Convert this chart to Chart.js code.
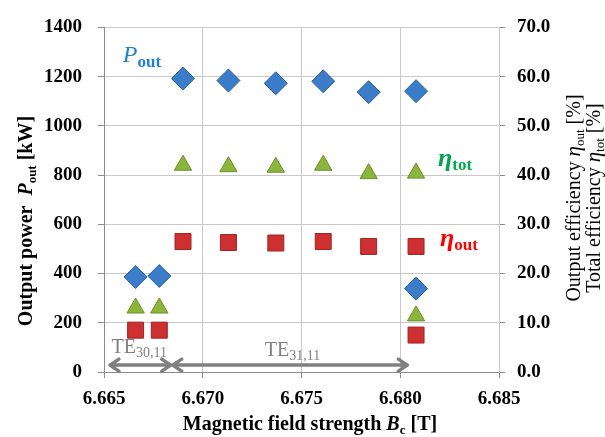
<!DOCTYPE html>
<html>
<head>
<meta charset="utf-8">
<script src="https://cdn.jsdelivr.net/npm/chart.js@4.4.1/dist/chart.umd.min.js"></script>
<style>
  html, body { margin: 0; padding: 0; background: #fff; }
  #wrap { width: 605px; height: 437px; }
</style>
</head>
<body>
<div id="wrap"><canvas id="grafico" width="605" height="437"></canvas></div>
<script>
// Magnetic field (T) for each measured point
const campoB = [6.6666, 6.6678, 6.6690, 6.6713, 6.6737, 6.6761, 6.6784, 6.6808, 6.6808];
// Output power (kW)
const potencia = [386, 390, 1192, 1184, 1173, 1181, 1137, 1141, 339];
// Total efficiency (%)
const etaTot = [13.0, 13.0, 42.0, 41.7, 41.6, 42.0, 40.3, 40.4, 11.4];
// Output efficiency (%)
const etaOut = [8.5, 8.5, 26.5, 26.3, 26.2, 26.5, 25.5, 25.5, 7.5];

// Axis ranges
const eixoX = { min: 6.665, max: 6.685, passo: 0.005 };
const eixoP = { min: 0, max: 1400, passo: 100, rotulo: 200 };
const eixoEta = { min: 0, max: 70, passo: 10 };

const SERIF = '"Liberation Serif", "Times New Roman", serif';

function pontos(ys) {
  return campoB.map((b, i) => ({ x: b, y: ys[i] }));
}

// draws text made of pieces [text, font, dy, color]
function pecas(ctx, partes, x, y, cor) {
  partes.forEach(p => {
    ctx.font = p[1];
    ctx.fillStyle = p[3] || cor;
    ctx.fillText(p[0], x, y + (p[2] || 0));
    x += ctx.measureText(p[0]).width;
  });
  return x;
}
function largura(ctx, partes) {
  let w = 0;
  partes.forEach(p => { ctx.font = p[1]; w += ctx.measureText(p[0]).width; });
  return w;
}

function seta(ctx, x1, x2, y) {
  ctx.save();
  ctx.strokeStyle = '#808080';
  ctx.lineWidth = 3.5;
  ctx.lineCap = 'round';
  ctx.lineJoin = 'round';
  ctx.beginPath();
  ctx.moveTo(x1, y); ctx.lineTo(x2, y);
  ctx.moveTo(x1 + 9, y - 6); ctx.lineTo(x1, y); ctx.lineTo(x1 + 9, y + 6);
  ctx.moveTo(x2 - 9, y - 6); ctx.lineTo(x2, y); ctx.lineTo(x2 - 9, y + 6);
  ctx.stroke();
  ctx.restore();
}

const anotacoes = {
  id: 'anotacoes',
  afterDraw(chart) {
    const ctx = chart.ctx;
    const sx = chart.scales.x, sy = chart.scales.y, se = chart.scales.y1;
    ctx.save();
    ctx.textBaseline = 'alphabetic';
    ctx.textAlign = 'left';

    // series labels
    pecas(ctx, [['P', 'italic 24px ' + SERIF], ['out', 'bold 17px ' + SERIF, 5]],
      sx.getPixelForValue(6.66595), sy.getPixelForValue(1260), '#1f7fd0');
    pecas(ctx, [['\u03B7', 'bold italic 26px ' + SERIF, -2], ['tot', 'bold 17px ' + SERIF, 2]],
      sx.getPixelForValue(6.68191), se.getPixelForValue(41.4), '#00a650');
    pecas(ctx, [['\u03B7', 'bold italic 26px ' + SERIF, -2], ['out', 'bold 17px ' + SERIF, 2]],
      sx.getPixelForValue(6.68201), se.getPixelForValue(25.2), '#ff0000');

    // mode labels and ranges
    pecas(ctx, [['TE', '20px ' + SERIF], ['30,11', '14px ' + SERIF, 4]],
      sx.getPixelForValue(6.66538), sy.getPixelForValue(76), '#7f7f7f');
    pecas(ctx, [['TE', '20px ' + SERIF], ['31,11', '14px ' + SERIF, 4]],
      sx.getPixelForValue(6.67314), sy.getPixelForValue(64), '#7f7f7f');
    seta(ctx, sx.getPixelForValue(6.66530), sx.getPixelForValue(6.66838), sy.getPixelForValue(28));
    seta(ctx, sx.getPixelForValue(6.66848), sx.getPixelForValue(6.68036), sy.getPixelForValue(28));

    // axis titles
    const tEsq = [['Output power  ', 'bold 20px ' + SERIF], ['P', 'bold italic 20px ' + SERIF],
      ['out', 'bold 13px ' + SERIF, 4], [' [kW]', 'bold 20px ' + SERIF]];
    ctx.save();
    ctx.translate(32, 221);
    ctx.rotate(-Math.PI / 2);
    pecas(ctx, tEsq, -largura(ctx, tEsq) / 2, 0, '#000');
    ctx.restore();

    const tDir1 = [['Output efficiency ', '20px ' + SERIF], ['\u03B7', 'italic 21px ' + SERIF],
      ['out', '13px ' + SERIF, 4], [' [%]', '20px ' + SERIF]];
    const tDir2 = [['Total efficiency ', '20px ' + SERIF], ['\u03B7', 'italic 21px ' + SERIF],
      ['tot', '13px ' + SERIF, 4], [' [%]', '20px ' + SERIF]];
    ctx.save();
    ctx.translate(580, 198);
    ctx.rotate(-Math.PI / 2);
    pecas(ctx, tDir1, -largura(ctx, tDir1) / 2, 0, '#000');
    pecas(ctx, tDir2, -largura(ctx, tDir2) / 2, 20, '#000');
    ctx.restore();

    const tBase = [['Magnetic field strength ', 'bold 20px ' + SERIF], ['B', 'bold italic 20px ' + SERIF],
      ['c', 'bold 13px ' + SERIF, 4], [' [T]', 'bold 20px ' + SERIF]];
    pecas(ctx, tBase, 310 - largura(ctx, tBase) / 2, 430, '#000');
    ctx.restore();
  }
};

const ctx = document.getElementById('grafico').getContext('2d');
const grafico = new Chart(ctx, {
  type: 'scatter',
  data: {
    datasets: [
      {
        label: 'Pout',
        data: pontos(potencia),
        yAxisID: 'y',
        pointStyle: 'rectRot',
        pointRadius: 11.5,
        pointHoverRadius: 11.5,
        backgroundColor: '#3b7dc8',
        borderColor: '#2a5e9c',
        borderWidth: 1
      },
      {
        label: 'eta tot',
        data: pontos(etaTot),
        yAxisID: 'y1',
        pointStyle: 'triangle',
        pointRadius: 10,
        pointHoverRadius: 10,
        backgroundColor: '#8bb53b',
        borderColor: '#6b8f2b',
        borderWidth: 1
      },
      {
        label: 'eta out',
        data: pontos(etaOut),
        yAxisID: 'y1',
        pointStyle: 'rect',
        pointRadius: 11.3,
        pointHoverRadius: 11.3,
        backgroundColor: '#cc3030',
        borderColor: '#a02424',
        borderWidth: 1
      }
    ]
  },
  options: {
    responsive: false,
    animation: false,
    events: [],
    layout: { padding: { top: 22, left: 0, right: 0, bottom: 0 } },
    plugins: { legend: { display: false }, tooltip: { enabled: false } },
    scales: {
      x: {
        type: 'linear',
        min: eixoX.min,
        max: eixoX.max,
        afterFit: s => { s.height = 65; },
        afterBuildTicks: s => {
          const t = [];
          for (let v = eixoX.min; v <= eixoX.max + 1e-9; v += eixoX.passo) t.push({ value: +v.toFixed(3) });
          s.ticks = t;
        },
        ticks: {
          padding: 10,
          color: '#000',
          font: { family: SERIF, size: 19, weight: 'bold' },
          callback: v => v.toFixed(3)
        },
        grid: { color: '#c8c8c8', tickColor: '#8c8c8c', tickLength: 6, lineWidth: 1 },
        border: { color: '#8c8c8c' }
      },
      y: {
        position: 'left',
        min: eixoP.min,
        max: eixoP.max,
        afterFit: s => { s.width = 104; },
        ticks: {
          stepSize: eixoP.passo,
          padding: 16,
          color: '#000',
          font: { family: SERIF, size: 19, weight: 'bold' },
          callback: v => (v % eixoP.rotulo === 0 ? v : '')
        },
        grid: {
          color: '#c8c8c8',
          tickLength: 6,
          tickColor: c => (c.tick && c.tick.value % eixoP.rotulo === 0 ? '#8c8c8c' : 'rgba(0,0,0,0)')
        },
        border: { color: '#8c8c8c' }
      },
      y1: {
        position: 'right',
        min: eixoEta.min,
        max: eixoEta.max,
        afterFit: s => { s.width = 106; },
        ticks: {
          stepSize: eixoEta.passo,
          padding: 12,
          color: '#000',
          font: { family: SERIF, size: 19, weight: 'bold' },
          callback: v => v.toFixed(1)
        },
        grid: { drawOnChartArea: false, tickLength: 6, tickColor: '#8c8c8c' },
        border: { color: '#c8c8c8' }
      }
    }
  },
  plugins: [anotacoes]
});
</script>
</body>
</html>
